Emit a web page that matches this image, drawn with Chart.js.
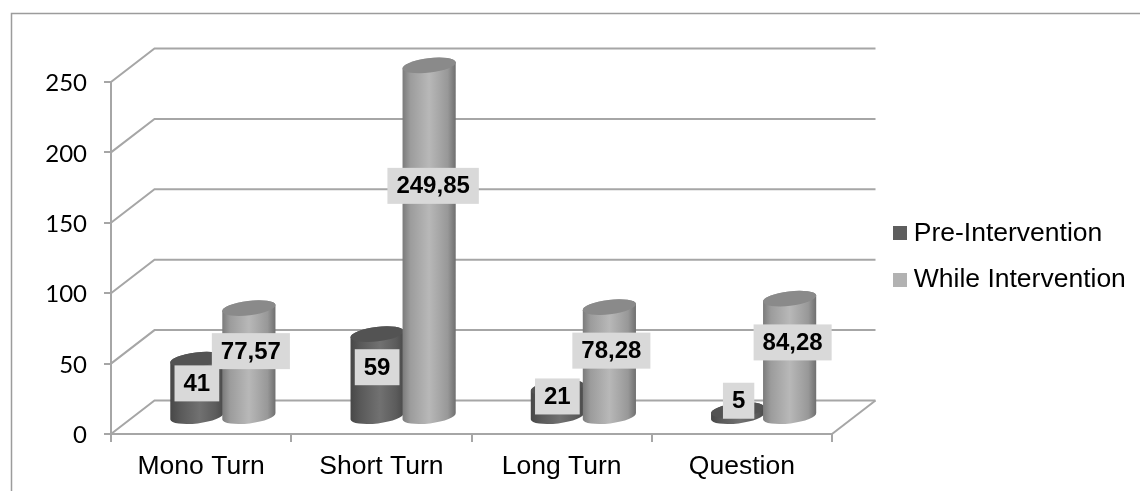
<!DOCTYPE html>
<html>
<head>
<meta charset="utf-8">
<title>Turn types</title>
<style>
  html, body { margin: 0; padding: 0; background: #fff; overflow: hidden; }
  canvas { display: block; }
</style>
</head>
<body>
<canvas id="chart" width="1140" height="491"></canvas>
<script src="https://cdn.jsdelivr.net/npm/chart.js@4"></script>
<script>
const categories = ['Mono Turn', 'Short Turn', 'Long Turn', 'Question'];
const seriesNames = ['Pre-Intervention', 'While Intervention'];
const preIntervention = [41, 59, 21, 5];
const whileIntervention = [77.57, 249.85, 78.28, 84.28];
const yTicks = [0, 50, 100, 150, 200, 250];

// how far each value label floats above the middle of its cylinder
const labelLift = [
  [4.5, 8, 5.5, 12.5],
  [11, 55, 11, 15]
];
const labelNudge = [
  [0, 0, 0, 1],
  [2, 4, 2, 3]
];

const depthX = 43.5;
const depthY = -33.5;
const lineColor = '#a6a6a6';
const shades = [
  {
    stops: [[0, '#474747'], [0.2, '#5a5a5a'], [0.55, '#717171'], [0.85, '#5c5c5c'], [1, '#4a4a4a']],
    cap: '#535353',
    swatch: '#5e5e5e'
  },
  {
    stops: [[0, '#7a7a7a'], [0.15, '#9c9c9c'], [0.5, '#b8b8b8'], [0.85, '#989898'], [1, '#6e6e6e']],
    cap: '#8a8a8a',
    swatch: '#b2b2b2'
  }
];

function makeSwatch(color) {
  const c = document.createElement('canvas');
  c.width = 14;
  c.height = 14;
  const g = c.getContext('2d');
  g.fillStyle = color;
  g.fillRect(0, 0, 14, 14);
  return c;
}

function drawCylinder(ctx, bar, shade) {
  const rx = bar.width / 2;
  const ry = 7.2;
  const tilt = -7 * Math.PI / 180;
  const cx = bar.x + depthX / 2;
  const top = bar.y + depthY / 2;
  const base = bar.base + depthY / 2;
  const ox = rx * Math.cos(tilt);
  const oy = rx * Math.sin(tilt);

  const side = ctx.createLinearGradient(cx - rx, 0, cx + rx, 0);
  shade.stops.forEach(function (s) {
    side.addColorStop(s[0], s[1]);
  });

  ctx.beginPath();
  ctx.moveTo(cx - ox, top - oy);
  ctx.lineTo(cx - ox, base - oy);
  ctx.ellipse(cx, base, rx, ry, tilt, Math.PI, 0, true);
  ctx.lineTo(cx + ox, top + oy);
  ctx.ellipse(cx, top, rx, ry, tilt, 0, Math.PI, true);
  ctx.closePath();
  ctx.fillStyle = side;
  ctx.fill();

  ctx.beginPath();
  ctx.ellipse(cx, top, rx, ry, tilt, 0, Math.PI * 2);
  ctx.fillStyle = shade.cap;
  ctx.fill();
}

const frame3d = {
  id: 'frame3d',
  beforeDraw(chart) {
    // chart frame, open on the right and at the bottom
    const ctx = chart.ctx;
    ctx.save();
    ctx.strokeStyle = '#9c9c9c';
    ctx.lineWidth = 1.5;
    ctx.beginPath();
    ctx.moveTo(11.5, 491);
    ctx.lineTo(11.5, 13.5);
    ctx.lineTo(1140, 13.5);
    ctx.stroke();
    ctx.restore();
  },
  afterLayout(chart) {
    // the legend sits well to the right of the back wall
    chart.legend.left = 899.5 - 20;
    chart.legend.right = 1140;
    chart.legend.top = 220 - 20;
    chart.legend.bottom = 491;
  },
  beforeDatasetsDraw(chart) {
    const ctx = chart.ctx;
    const area = chart.chartArea;
    const y = chart.scales.y;
    ctx.save();
    ctx.strokeStyle = lineColor;
    ctx.lineWidth = 2;
    yTicks.forEach(function (tick) {
      const py = y.getPixelForValue(tick);
      ctx.beginPath();
      ctx.moveTo(area.left, py);
      ctx.lineTo(area.left + depthX, py + depthY);
      ctx.lineTo(area.right + depthX, py + depthY);
      ctx.stroke();
    });
    const floor = y.getPixelForValue(0);
    ctx.beginPath();
    ctx.moveTo(area.right, floor);
    ctx.lineTo(area.right + depthX, floor + depthY);
    ctx.stroke();
    ctx.restore();

    // series are painted in order so the lighter one overlaps the darker one
    chart.data.datasets.forEach(function (ds, i) {
      chart.getDatasetMeta(i).data.forEach(function (bar) {
        drawCylinder(ctx, bar, shades[i]);
      });
    });
    return false;
  },
  afterDraw(chart) {
    const ctx = chart.ctx;
    ctx.save();
    ctx.font = 'bold 24px "Liberation Sans"';
    ctx.textAlign = 'center';
    ctx.textBaseline = 'middle';
    chart.data.datasets.forEach(function (ds, i) {
      chart.getDatasetMeta(i).data.forEach(function (bar, j) {
        const text = String(ds.data[j]).replace('.', ',');
        const w = ctx.measureText(text).width + 18;
        const cx = bar.x + depthX / 2 + labelNudge[i][j];
        const cy = (bar.y + bar.base + depthY) / 2 - labelLift[i][j];
        ctx.fillStyle = '#d9d9d9';
        ctx.fillRect(cx - w / 2, cy - 18, w, 36);
        ctx.fillStyle = '#000';
        ctx.fillText(text, cx, cy + 1);
      });
    });
    ctx.restore();
  }
};

const chart = new Chart(document.getElementById('chart'), {
  type: 'bar',
  data: {
    labels: categories,
    datasets: [
      { label: seriesNames[0], data: preIntervention, backgroundColor: shades[0].swatch },
      { label: seriesNames[1], data: whileIntervention, backgroundColor: shades[1].swatch }
    ]
  },
  plugins: [frame3d],
  options: {
    responsive: false,
    devicePixelRatio: 1,
    animation: false,
    categoryPercentage: 0.577,
    barPercentage: 1.03,
    layout: { padding: { left: 0, top: 82, right: 208, bottom: 0 } },
    scales: {
      x: {
        afterFit(scale) { scale.height = 57; },
        grid: { drawOnChartArea: false, color: lineColor, lineWidth: 2, tickLength: 8 },
        border: { color: lineColor, width: 2 },
        ticks: {
          color: '#000',
          padding: 9,
          maxRotation: 0,
          font: { family: '"Liberation Sans"', size: 26.5 }
        }
      },
      y: {
        min: 0,
        max: 250,
        afterFit(scale) { scale.width = 111; },
        grid: { drawOnChartArea: false, color: lineColor, lineWidth: 2, tickLength: 7 },
        border: { color: lineColor, width: 2 },
        afterBuildTicks(scale) { scale.ticks = yTicks.map(function (v) { return { value: v }; }); },
        ticks: {
          color: '#000',
          padding: 17,
          labelOffset: 1.5,
          font: { family: 'Lato', size: 24 }
        }
      }
    },
    plugins: {
      tooltip: { enabled: false },
      legend: {
        position: 'right',
        align: 'start',
        maxWidth: 100,
        labels: {
          color: '#000',
          font: { family: '"Liberation Sans"', size: 26.5 },
          usePointStyle: true,
          boxWidth: 1,
          padding: 20,
          generateLabels(c) {
            return c.data.datasets.map(function (ds, i) {
              return {
                text: ds.label,
                fillStyle: ds.backgroundColor,
                strokeStyle: ds.backgroundColor,
                lineWidth: 0,
                pointStyle: makeSwatch(ds.backgroundColor),
                datasetIndex: i
              };
            });
          }
        }
      }
    }
  }
});
</script>
</body>
</html>
